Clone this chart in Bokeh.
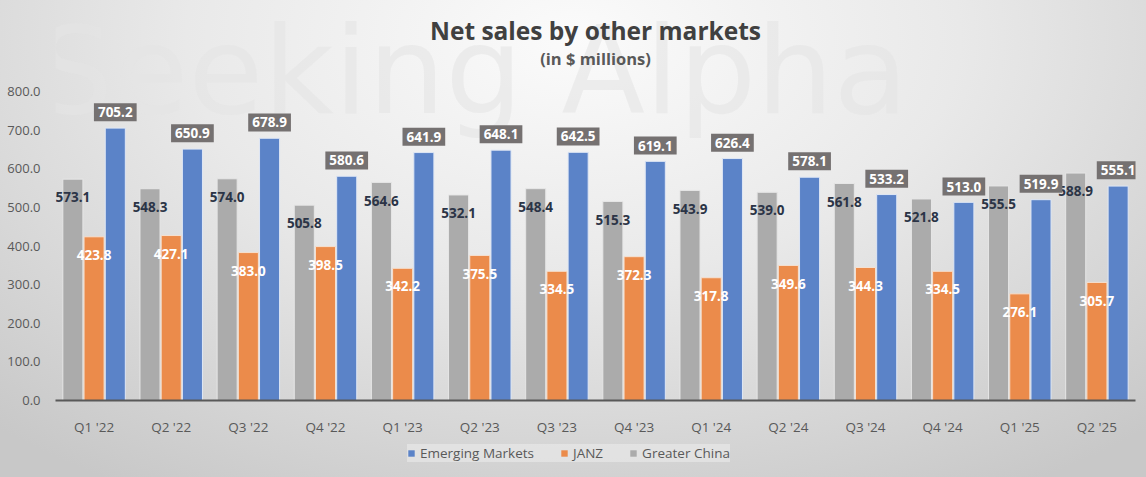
from bokeh.plotting import figure
from bokeh.layouts import column
from bokeh.models import (ColumnDataSource, FactorRange, Legend, LegendItem,
                          Label, NumeralTickFormatter, Range1d)
from bokeh.transform import dodge
from bokeh.core.properties import value
from bokeh.embed import file_html
from bokeh.resources import INLINE

# data (in $ millions)
quarters = ["Q1 '22", "Q2 '22", "Q3 '22", "Q4 '22", "Q1 '23", "Q2 '23", "Q3 '23",
            "Q4 '23", "Q1 '24", "Q2 '24", "Q3 '24", "Q4 '24", "Q1 '25", "Q2 '25"]
greater_china = [573.1, 548.3, 574.0, 505.8, 564.6, 532.1, 548.4,
                 515.3, 543.9, 539.0, 561.8, 521.8, 555.5, 588.9]
janz = [423.8, 427.1, 383.0, 398.5, 342.2, 375.5, 334.5,
        372.3, 317.8, 349.6, 344.3, 334.5, 276.1, 305.7]
emerging = [705.2, 650.9, 678.9, 580.6, 641.9, 648.1, 642.5,
            619.1, 626.4, 578.1, 533.2, 513.0, 519.9, 555.1]

BLUE = "#5b83c8"
ORANGE = "#eb8b4b"
GRAY = "#ababab"
FONT = "Open Sans"

src = ColumnDataSource(dict(
    q=quarters, gc=greater_china, janz=janz, em=emerging,
    gc_lbl=["%.1f" % v for v in greater_china],
    janz_lbl=["%.1f" % v for v in janz],
    em_lbl=["%.1f" % v for v in emerging],
    gc_y=[v - 47 for v in greater_china],
    janz_y=[v - 47 for v in janz],
    em_y=[v + 41 for v in emerging],
))

# the frame runs up to the top edge so the titles and watermark can live inside it
p = figure(x_range=FactorRange(*quarters, range_padding=0), y_range=Range1d(0, 1035.6),
           frame_width=1080, frame_height=400, title=None, toolbar_location=None,
           output_backend="svg", min_border_left=55, min_border_right=11,
           min_border_top=0, min_border_bottom=38)
p.background_fill_alpha = 0
p.border_fill_alpha = 0
p.outline_line_color = None

# watermark
p.add_layout(Label(x=5.4, y=852, text="Seeking Alpha", text_align="center",
                   text_baseline="middle", text_font="DejaVu Sans",
                   text_font_size="122px", text_color="#e4e4e4", text_alpha=0.6,
                   level="underlay"))

# titles
p.add_layout(Label(x=7, y=958, text="Net sales by other markets", text_align="center",
                   text_baseline="middle", text_font=FONT, text_font_size="24.5px",
                   text_font_style="bold", text_color="#404040"))
p.add_layout(Label(x=7, y=885, text="(in $ millions)", text_align="center",
                   text_baseline="middle", text_font=FONT, text_font_size="16.5px",
                   text_font_style="bold", text_color="#595959"))

W = 0.26
p.vbar(x=dodge("q", -0.275, range=p.x_range), top="gc", width=W, source=src,
       fill_color=GRAY, line_color="#e6e6e6", line_width=1)
p.vbar(x=dodge("q", 0.0, range=p.x_range), top="janz", width=W, source=src,
       fill_color=ORANGE, line_color="#f5e0d0", line_width=1)
p.vbar(x=dodge("q", 0.275, range=p.x_range), top="em", width=W, source=src,
       fill_color=BLUE, line_color="#dfe7f5", line_width=1)

# data labels
p.text(x=dodge("q", -0.275, range=p.x_range), y="gc_y", text="gc_lbl", source=src,
       text_align="center", text_baseline="middle", text_font=value(FONT),
       text_font_size="13.5px", text_font_style="bold", text_color="#2b3446")
p.text(x=dodge("q", 0.0, range=p.x_range), y="janz_y", text="janz_lbl", source=src,
       text_align="center", text_baseline="middle", text_font=value(FONT),
       text_font_size="13.5px", text_font_style="bold", text_color="#ffffff")
p.text(x=dodge("q", 0.275, range=p.x_range), y="em_y", text="em_lbl", source=src,
       text_align="center", text_baseline="middle", text_font=value(FONT),
       text_font_size="13.5px", text_font_style="bold", text_color="#ffffff",
       background_fill_color="#757171", padding=4)

# axes
p.yaxis.ticker = [0, 100, 200, 300, 400, 500, 600, 700, 800]
p.yaxis.formatter = NumeralTickFormatter(format="0.0")
p.yaxis.axis_line_color = None
p.yaxis.major_tick_line_color = None
p.yaxis.minor_tick_line_color = None
p.yaxis.major_label_text_font = FONT
p.yaxis.major_label_text_font_size = "13px"
p.yaxis.major_label_text_color = "#595959"
p.yaxis.major_label_standoff = 9

p.xaxis.axis_line_color = "#595959"
p.xaxis.axis_line_width = 2
p.xaxis.major_tick_line_color = None
p.xaxis.minor_tick_line_color = None
p.xaxis.major_tick_out = 0
p.xaxis.major_tick_in = 0
p.xaxis.axis_label_standoff = 0
p.xaxis.major_label_text_font = FONT
p.xaxis.major_label_text_font_size = "13.5px"
p.xaxis.major_label_text_color = "#595959"
p.xaxis.major_label_standoff = 17

p.xgrid.grid_line_color = None
p.ygrid.grid_line_color = None

# legend strip under the chart (its own small figure; swatch bars sit out of view)
lg = figure(width=1146, height=39, x_range=(0, 1), y_range=(0, 1), title=None,
            toolbar_location=None, output_backend="svg", x_axis_location=None,
            y_axis_location=None, min_border=0)
lg.background_fill_alpha = 0
lg.border_fill_alpha = 0
lg.outline_line_color = None
lg.grid.grid_line_color = None
sw_em = lg.vbar(x=[-5], top=[-5], bottom=[-6], width=0.1, fill_color=BLUE, line_color=None)
sw_janz = lg.vbar(x=[-5], top=[-5], bottom=[-6], width=0.1, fill_color=ORANGE, line_color=None)
sw_gc = lg.vbar(x=[-5], top=[-5], bottom=[-6], width=0.1, fill_color=GRAY, line_color=None)
legend = Legend(items=[LegendItem(label="Emerging Markets", renderers=[sw_em]),
                       LegendItem(label="JANZ", renderers=[sw_janz]),
                       LegendItem(label="Greater China", renderers=[sw_gc])],
                orientation="horizontal", location=(352, 15),
                label_text_font=FONT, label_text_font_size="13.5px",
                label_text_color="#595959", glyph_width=8, glyph_height=8,
                label_height=16, spacing=26, padding=6, margin=0,
                background_fill_color="#f0f0f0", background_fill_alpha=0.5,
                border_line_color=None)
lg.add_layout(legend)

page = column(p, lg, spacing=0)
page.styles = {"background": "radial-gradient(ellipse 75% 110% at 50% 8%, #fbfbfb 0%, #e9e9e9 45%, #c8c8c8 100%)"}

open("out.html", "w").write(file_html(page, INLINE))
